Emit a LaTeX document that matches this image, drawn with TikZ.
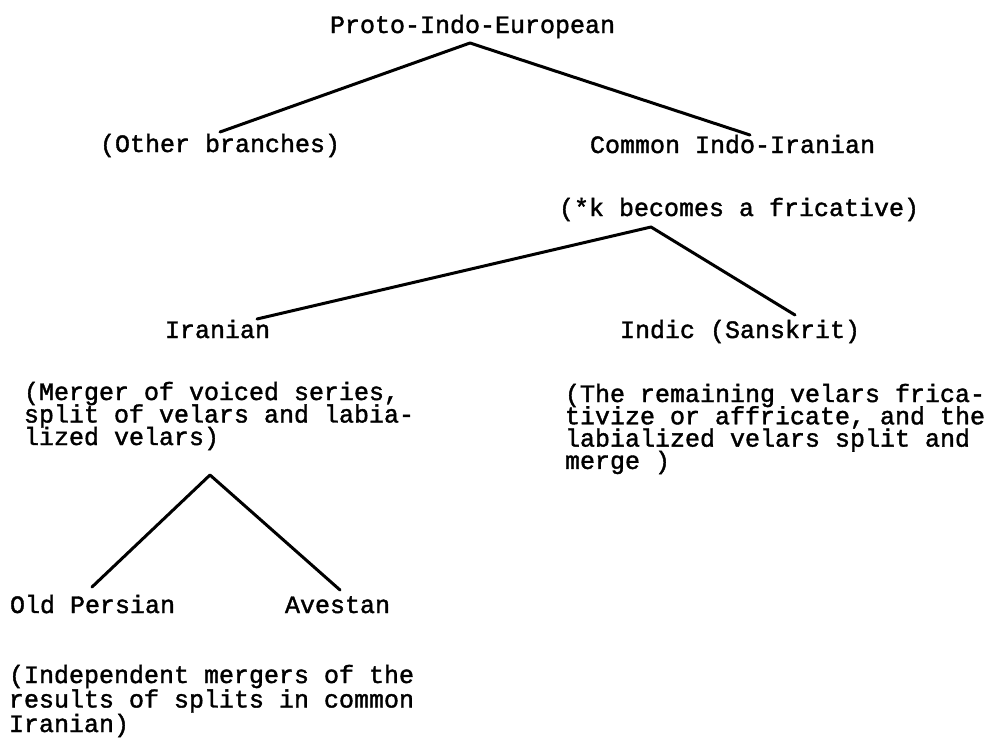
\documentclass[tikz,border=0pt]{standalone}
\usepackage{fontspec}
\newfontfamily\tw[FakeBold=1.5]{Liberation Mono}
\newcommand\plines[2]{\vtop{\baselineskip=#1\lineskiplimit=-100pt\lineskip=0pt\halign{##\hfil\cr#2\crcr}}}
\tikzset{
  lbl/.style={inner sep=0pt, outer sep=0pt, anchor=base west, font=\tw\fontsize{25}{22}\selectfont},
  branch/.style={line width=3pt, line cap=round, line join=round}
}
\begin{document}
\begin{tikzpicture}[x=1pt,y=-1pt]
\fill[white] (0,0) rectangle (986,739);
\useasboundingbox (0,0) rectangle (986,739);
% texts
\node[lbl] (pie) at (330,33) {Proto-Indo-European};
\node[lbl] (other) at (100,152) {(Other branches)};
\node[lbl] (cii) at (590,153) {Common Indo-Iranian};
\node[lbl] (kfric) at (559,216) {(*k becomes a fricative)};
\node[lbl] (iran) at (165,338) {Iranian};
\node[lbl] (indic) at (620,338) {Indic (Sanskrit)};
\node[lbl] (merger) at (24,400) {\plines{22.5pt}{(Merger of voiced series,\cr split of velars and labia-\cr lized velars)}};
\node[lbl] (indicnote) at (565,402) {\plines{22.3pt}{(The remaining velars frica-\cr tivize or affricate, and the\cr labialized velars split and\cr merge )}};
\node[lbl] (oldp) at (10,613) {Old Persian};
\node[lbl] (avest) at (285,613) {Avestan};
\node[lbl] (indep) at (9,683) {\plines{24.5pt}{(Independent mergers of the\cr results of splits in common\cr Iranian)}};
% branch points
\coordinate (pieB) at (470,43);
\coordinate (otherT) at (220,132);
\coordinate (ciiT) at (750,135);
\coordinate (kfricB) at (651,227);
\coordinate (iranT) at (257,319);
\coordinate (indicT) at (795,315);
\coordinate (mergerB) at (210,475);
\coordinate (oldpT) at (92,587);
\coordinate (avestT) at (340,590);
\draw[branch] (otherT) -- (pieB) -- (ciiT);
\draw[branch] (iranT) -- (kfricB) -- (indicT);
\draw[branch] (oldpT) -- (mergerB) -- (avestT);
\end{tikzpicture}
\end{document}
